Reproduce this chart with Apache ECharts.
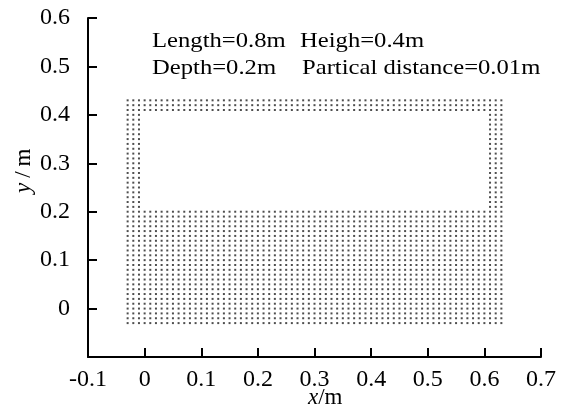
<!DOCTYPE html>
<html>
<head>
<meta charset="utf-8">
<script src="https://cdn.jsdelivr.net/npm/echarts@6/dist/echarts.min.js"></script>
<style>
  html, body { margin: 0; padding: 0; background: #fff; }
  #main { width: 563px; height: 419px; }
</style>
</head>
<body>
<div id="main"></div>
<script>
// particle blocks [xFrom, xTo, yFrom, yTo] in m, lattice spacing below
const particleBlocks = [
  [-0.03, 0.63, -0.03, 0.20], // bottom water layer
  [-0.03, -0.01, 0.21, 0.40], // left wall
  [0.61, 0.63, 0.21, 0.40],   // right wall
  [-0.03, 0.63, 0.41, 0.43]   // top layer
];
const particleSpacing = 0.01;
const xTicks = [-0.1, 0, 0.1, 0.2, 0.3, 0.4, 0.5, 0.6, 0.7];
const yTicks = [-0.1, 0, 0.1, 0.2, 0.3, 0.4, 0.5, 0.6];
const notes = ['Length=0.8m', 'Heigh=0.4m', 'Depth=0.2m', 'Partical distance=0.01m'];

// lay the particles out on the lattice (integer steps to avoid float drift)
const points = [];
particleBlocks.forEach(b => {
  const i0 = Math.round(b[0] / particleSpacing), i1 = Math.round(b[1] / particleSpacing);
  const j0 = Math.round(b[2] / particleSpacing), j1 = Math.round(b[3] / particleSpacing);
  for (let i = i0; i <= i1; i++) {
    for (let j = j0; j <= j1; j++) {
      points.push([+(i * particleSpacing).toFixed(2), +(j * particleSpacing).toFixed(2)]);
    }
  }
});

const font = "'Liberation Serif', 'Times New Roman', serif";
const myChart = echarts.init(document.getElementById('main'));
const axisCommon = {
  type: 'value',
  axisLine: { show: true, onZero: false, lineStyle: { color: '#000', width: 2 } },
  axisTick: { show: true, inside: true, length: 9, lineStyle: { color: '#000', width: 2 } },
  splitLine: { show: false },
  axisLabel: { color: '#000', fontFamily: font, fontSize: 24 }
};

const option = {
  animation: false,
  backgroundColor: '#fff',
  grid: { left: 88, right: 22, top: 18, bottom: 62 },
  xAxis: Object.assign({}, axisCommon, {
    min: xTicks[0], max: xTicks[xTicks.length - 1], interval: 0.1,
    axisLabel: Object.assign({}, axisCommon.axisLabel, { margin: 11 })
  }),
  yAxis: Object.assign({}, axisCommon, {
    min: yTicks[0], max: yTicks[yTicks.length - 1], interval: 0.1,
    axisLabel: Object.assign({}, axisCommon.axisLabel, {
      margin: 18,
      formatter: v => (Math.abs(v - yTicks[0]) < 1e-9 ? '' : String(+v.toFixed(1)))
    })
  }),
  graphic: [
    // axis titles
    {
      type: 'text', x: 308, y: 386,
      style: {
        text: '{i|x}/m', fill: '#000', font: '23px ' + font,
        rich: { i: { fontStyle: 'italic', fontFamily: font, fontSize: 23 } }
      }
    },
    {
      type: 'text', x: 12, y: 193, rotation: Math.PI / 2,
      style: {
        text: '{i|y}{s|/}m', fill: '#000', font: '23px ' + font,
        rich: {
          i: { fontStyle: 'italic', fontFamily: font, fontSize: 23 },
          s: { fontFamily: font, fontSize: 23, padding: [0, 5, 0, 5] }
        }
      }
    },
    // notes
    { type: 'text', x: 152, y: 30, scaleX: 1.12, style: { text: notes[0], fill: '#000', font: '22px ' + font } },
    { type: 'text', x: 300, y: 30, scaleX: 1.12, style: { text: notes[1], fill: '#000', font: '22px ' + font } },
    { type: 'text', x: 152, y: 57, scaleX: 1.12, style: { text: notes[2], fill: '#000', font: '22px ' + font } },
    { type: 'text', x: 302, y: 57, scaleX: 1.12, style: { text: notes[3], fill: '#000', font: '22px ' + font } }
  ],
  series: [
    {
      type: 'scatter',
      data: points,
      symbol: 'rect',
      symbolSize: 2,
      large: false,
      itemStyle: { color: '#222' }
    }
  ]
};
myChart.setOption(option);
</script>
</body>
</html>
